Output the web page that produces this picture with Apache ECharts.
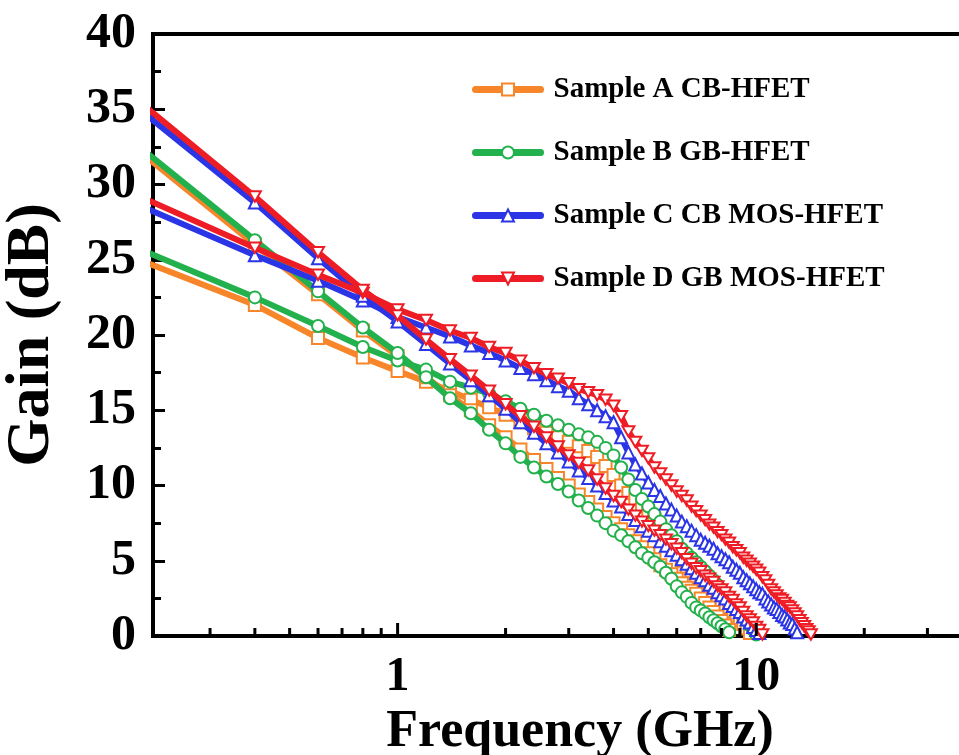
<!DOCTYPE html>
<html>
<head>
<meta charset="utf-8">
<script src="https://cdn.jsdelivr.net/npm/echarts@6/dist/echarts.min.js"></script>
<style>
  html, body { margin: 0; padding: 0; background: #fff; }
  #chart { width: 959px; height: 755px; }
</style>
</head>
<body>
<div id="chart"></div>
<script>
// Sample frequencies (GHz), 0.2 GHz step
const freqGHz = [
  0.2, 0.4, 0.6, 0.8, 1.0, 1.2, 1.4, 1.6, 1.8, 2.0,
  2.2, 2.4, 2.6, 2.8, 3.0, 3.2, 3.4, 3.6, 3.8, 4.0,
  4.2, 4.4, 4.6, 4.8, 5.0, 5.2, 5.4, 5.6, 5.8, 6.0,
  6.2, 6.4, 6.6, 6.8, 7.0, 7.2, 7.4, 7.6, 7.8, 8.0,
  8.2, 8.4, 8.6, 8.8, 9.0, 9.2, 9.4, 9.6, 9.8, 10.0,
  10.2, 10.4, 10.6, 10.8, 11.0, 11.2, 11.4, 11.6, 11.8, 12.0,
  12.2, 12.4, 12.6, 12.8, 13.0, 13.2, 13.4, 13.6, 13.8, 14.0,
  14.2
];

// Sample A CB-HFET (dB)
const gainA_msg = [
  24.8, 22.0, 19.8, 18.5, 17.6, 16.9, 16.3, 15.7, 15.2, 14.7,
  14.2, 13.8, 13.5, 13.2, 12.9, 12.6, 12.3, 11.9, 11.3, 10.7,
  10.0, 9.5, 9.1, 8.6, 8.2, 7.7, 7.2, 6.8, 6.3, 5.7,
  5.0, 4.6, 4.3, 3.95, 3.65, 3.35, 3.1, 2.85, 2.6, 2.35,
  2.1, 1.9, 1.65, 1.35, 1.05, 0.8, 0.5, 0.2
];
const gainA_h21 = [
  31.8, 26.0, 22.7, 20.3, 18.6, 17.2, 16.0, 15.0, 14.0, 13.2,
  12.4, 11.7, 11.1, 10.5, 10.0, 9.4, 8.9, 8.4, 7.9, 7.5,
  7.1, 6.7, 6.3, 5.9, 5.5, 5.1, 4.7, 4.4, 4.1, 3.8,
  3.5, 3.2, 3.0, 2.8, 2.5, 2.2, 1.9, 1.6, 1.3, 1.0,
  0.7, 0.4
];

// Sample B GB-HFET (dB)
const gainB_msg = [
  25.5, 22.5, 20.6, 19.2, 18.3, 17.7, 16.9, 16.5, 16.1, 15.6,
  15.1, 14.7, 14.3, 14.0, 13.7, 13.4, 13.2, 12.9, 12.5, 12.0,
  11.2, 10.4, 9.7, 9.1, 8.6, 8.1, 7.6, 7.1, 6.7, 6.3,
  5.8, 5.5, 5.2, 4.9, 4.6, 4.3, 4.0, 3.7, 3.4, 3.1,
  2.8, 2.5, 2.2, 1.9, 1.6, 1.3, 1.0, 0.7, 0.4, 0.1
];
const gainB_h21 = [
  32.1, 26.3, 22.9, 20.5, 18.8, 17.2, 15.8, 14.8, 13.7, 12.8,
  11.9, 11.2, 10.6, 10.1, 9.6, 9.0, 8.5, 8.0, 7.5, 7.0,
  6.7, 6.3, 5.9, 5.5, 5.2, 4.9, 4.6, 4.2, 3.8, 3.3,
  2.9, 2.6, 2.2, 1.9, 1.7, 1.5, 1.25, 1.05, 0.85, 0.65,
  0.45, 0.25
];

// Sample C CB MOS-HFET (dB)
const gainC_msg = [
  28.4, 25.3, 23.6, 22.3, 21.2, 20.5, 19.9, 19.3, 18.8, 18.3,
  17.8, 17.4, 17.0, 16.6, 16.3, 15.8, 15.4, 15.0, 14.6, 14.2,
  13.2, 12.2, 11.4, 10.8, 10.2, 9.7, 9.3, 8.8, 8.4, 8.0,
  7.6, 7.3, 7.0, 6.7, 6.4, 6.2, 6.0, 5.8, 5.5, 5.3,
  5.1, 4.9, 4.6, 4.4, 4.2, 3.9, 3.7, 3.5, 3.3, 3.1,
  2.9, 2.8, 2.5, 2.3, 2.1, 1.9, 1.8, 1.6, 1.4, 1.3,
  1.1, 0.9, 0.8, 0.5, 0.25
];
const gainC_h21 = [
  34.6, 28.8, 25.1, 22.6, 20.9, 19.4, 18.1, 17.0, 16.0, 15.1,
  14.2, 13.5, 12.8, 12.2, 11.6, 11.0, 10.5, 10.0, 9.5, 9.0,
  8.6, 8.1, 7.7, 7.3, 7.0, 6.7, 6.3, 6.0, 5.7, 5.4,
  5.1, 4.8, 4.5, 4.2, 3.9, 3.7, 3.4, 3.2, 2.9, 2.7,
  2.5, 2.2, 2.0, 1.8, 1.6, 1.3, 1.1, 0.9, 0.6, 0.4,
  0.2
];

// Sample D GB MOS-HFET (dB)
const gainD_msg = [
  29.0, 25.8, 24.0, 22.8, 21.7, 21.0, 20.3, 19.8, 19.2, 18.8,
  18.3, 17.8, 17.4, 17.1, 16.8, 16.4, 16.2, 16.0, 15.7, 15.3,
  14.6, 13.6, 12.9, 12.3, 11.8, 11.2, 10.8, 10.4, 10.0, 9.6,
  9.3, 9.0, 8.6, 8.3, 8.0, 7.7, 7.4, 7.2, 6.9, 6.7,
  6.4, 6.2, 5.9, 5.7, 5.5, 5.2, 5.0, 4.8, 4.6, 4.4,
  4.2, 3.9, 3.7, 3.4, 3.1, 2.9, 2.7, 2.5, 2.4, 2.2,
  2.0, 1.9, 1.7, 1.5, 1.3, 1.05, 0.85, 0.65, 0.45, 0.3,
  0.1
];
const gainD_h21 = [
  35.1, 29.2, 25.5, 23.0, 21.3, 19.7, 18.4, 17.3, 16.3, 15.4,
  14.6, 13.9, 13.2, 12.6, 12.0, 11.5, 11.0, 10.4, 9.8, 9.3,
  8.9, 8.4, 8.0, 7.6, 7.3, 7.0, 6.7, 6.4, 6.1, 5.8,
  5.5, 5.1, 4.8, 4.5, 4.3, 4.0, 3.8, 3.6, 3.3, 3.1,
  2.9, 2.6, 2.4, 2.1, 1.9, 1.6, 1.3, 1.1, 0.9, 0.6,
  0.4, 0.1
];

const sampleNames = ['Sample A CB-HFET', 'Sample B GB-HFET', 'Sample C CB MOS-HFET', 'Sample D GB MOS-HFET'];
const sampleColors = ['#F7862B', '#22B14C', '#2B35E6', '#EE1C25'];
const sampleSymbols = ['rect', 'circle', 'triangle', 'path://M0,0L20,0L10,17.3Z'];

// x-axis tick marks: decade (major) and in-between (minor) positions
const xMinorTicks = [0.3, 0.4, 0.5, 0.6, 0.7, 0.8, 0.9, 2, 3, 4, 5, 6, 7, 8, 9, 20, 30, 40];
const xMajorTicks = [1, 10];

const FONT = '"Liberation Serif", "Times New Roman", serif';

function pairs(values) {
  return values.map((v, i) => [freqGHz[i], v]);
}

function gainSeries(idx, values) {
  return {
    name: sampleNames[idx],
    type: 'line',
    data: pairs(values),
    symbol: sampleSymbols[idx],
    symbolKeepAspect: true,
    symbolSize: 12,
    showAllSymbol: true,
    clip: true,
    lineStyle: { color: sampleColors[idx], width: 6, cap: 'round', join: 'round' },
    itemStyle: { color: '#fff', borderColor: sampleColors[idx], borderWidth: 2 },
    emphasis: { disabled: true },
    z: 3 + idx
  };
}

function tickSeries(values, len) {
  return {
    type: 'custom',
    silent: true,
    clip: false,
    z: 10,
    data: values.map(v => [v, 0]),
    renderItem: function (params, api) {
      const p = api.coord([api.value(0), 0]);
      return {
        type: 'line',
        shape: { x1: p[0], y1: p[1], x2: p[0], y2: p[1] - len },
        style: { stroke: '#000', lineWidth: 3 }
      };
    }
  };
}

const chart = echarts.init(document.getElementById('chart'), null, { renderer: 'canvas' });

chart.setOption({
  animation: false,
  backgroundColor: '#fff',
  grid: {
    left: 153, right: -48, top: 34, bottom: 119,
    outerBoundsMode: 'none',
    containLabel: false,
    show: true, borderColor: '#000', borderWidth: 4, backgroundColor: 'transparent'
  },
  legend: {
    orient: 'vertical',
    left: 467,
    top: 70,
    itemWidth: 65,
    itemHeight: 15,
    itemGap: 34,
    selectedMode: false,
    data: sampleNames,
    lineStyle: { width: 7, cap: 'round' },
    textStyle: {
      fontFamily: FONT, fontWeight: 'bold', fontSize: 29, color: '#000',
      lineHeight: 28, padding: [0, 0, 0, 8]
    }
  },
  xAxis: {
    type: 'log',
    logBase: 10,
    min: 0.208,
    max: 50,
    axisLine: { show: true, lineStyle: { color: '#000', width: 4 } },
    axisTick: { show: false },
    splitLine: { show: false },
    axisLabel: {
      margin: 18,
      fontFamily: FONT, fontWeight: 'bold', fontSize: 48, color: '#000',
      showMinLabel: false, showMaxLabel: false,
      formatter: function (v) {
        const l = Math.log10(v);
        return (Math.abs(l - Math.round(l)) < 1e-6 && v >= 1) ? String(Math.round(v)) : '';
      }
    },
    name: 'Frequency (GHz)',
    nameLocation: 'middle',
    nameGap: 60,
    nameTextStyle: { fontFamily: FONT, fontWeight: 'bold', fontSize: 52, color: '#000' }
  },
  yAxis: {
    type: 'value',
    min: 0,
    max: 40,
    interval: 5,
    axisLine: { show: true, lineStyle: { color: '#000', width: 4 } },
    axisTick: { show: true, inside: true, length: 12, lineStyle: { color: '#000', width: 3 } },
    minorTick: { show: true, splitNumber: 2, length: 8, lineStyle: { color: '#000', width: 3 } },
    splitLine: { show: false },
    axisLabel: {
      margin: 17,
      fontFamily: FONT, fontWeight: 'bold', fontSize: 50, color: '#000'
    },
    name: 'Gain (dB)',
    nameLocation: 'middle',
    nameRotate: 90,
    nameGap: 90,
    nameTextStyle: { fontFamily: FONT, fontWeight: 'bold', fontSize: 62, color: '#000' }
  },
  series: [
    gainSeries(0, gainA_msg),
    gainSeries(0, gainA_h21),
    gainSeries(1, gainB_msg),
    gainSeries(1, gainB_h21),
    gainSeries(2, gainC_msg),
    gainSeries(2, gainC_h21),
    gainSeries(3, gainD_msg),
    gainSeries(3, gainD_h21),
    tickSeries(xMinorTicks, 8),
    tickSeries(xMajorTicks, 13)
  ]
});
</script>
</body>
</html>
